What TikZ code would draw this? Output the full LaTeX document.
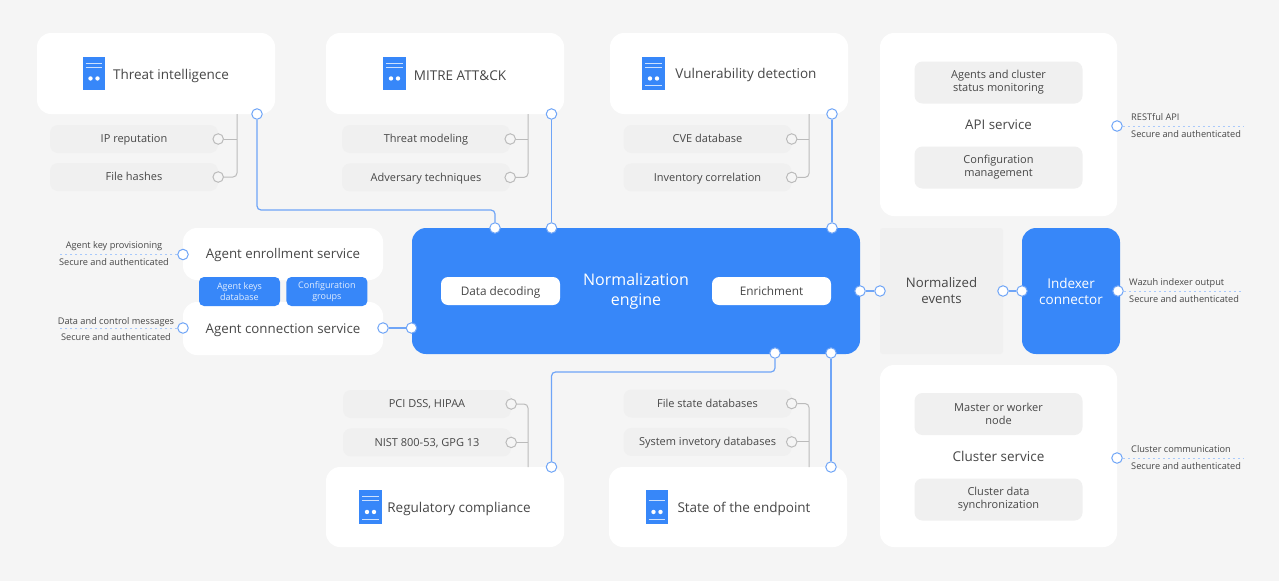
\documentclass[tikz,border=0pt]{standalone}
\usepackage{fontspec}
\setmainfont{Open Sans}
\usetikzlibrary{positioning}

\definecolor{pagebg}{HTML}{F5F5F5}
\definecolor{pillbg}{HTML}{F0F0F0}
\definecolor{wazuhblue}{HTML}{3787F9}
\definecolor{wireblue}{HTML}{6FA5F7}
\definecolor{dotblue}{HTML}{A9C9FB}
\definecolor{graywire}{HTML}{BBBBBB}
\definecolor{inktext}{HTML}{474747}

\tikzset{
	card/.style={fill=white, rounded corners=14pt, inner sep=0pt, text=inktext, text height=9.6pt, text depth=0pt, font=\fontsize{13.3}{16}\selectfont},
	title/.style={inner sep=0pt, text=inktext, text height=9.6pt, text depth=0pt, font=\fontsize{13.5}{16}\selectfont},
	pill/.style={fill=pillbg, rounded corners=8pt, minimum width=168pt, minimum height=28pt, inner sep=0pt, text=inktext, text height=7.9pt, text depth=0pt, font=\fontsize{11}{13}\selectfont},
	bigpill/.style={fill=pillbg, rounded corners=8pt, minimum width=168pt, minimum height=42pt, inner sep=0pt, text=inktext, align=center, font=\fontsize{11}{13}\selectfont},
	bluebox/.style={fill=wazuhblue, rounded corners=14pt, inner sep=0pt, text=white, align=center, font=\fontsize{13.5}{16}\selectfont},
	tinybox/.style={fill=wazuhblue, rounded corners=5pt, minimum width=81pt, minimum height=29pt, inner sep=0pt, text=white!85!wazuhblue, align=center, font=\fontsize{9}{11}\selectfont},
	whitepill/.style={fill=white, rounded corners=7pt, minimum width=119pt, minimum height=28pt, inner sep=0pt, text=inktext, text height=8.4pt, text depth=0pt, font=\fontsize{11.8}{14}\selectfont},
	port/.style={circle, draw=wireblue, fill=white, line width=1pt, minimum size=10.5pt, inner sep=0pt},
	grayport/.style={circle, draw=graywire, fill=pagebg, line width=1pt, minimum size=10.5pt, inner sep=0pt},
	note/.style={inner sep=0pt, text=inktext, text height=6.6pt, text depth=0pt, font=\fontsize{9.2}{10}\selectfont},
	wire/.style={draw=wireblue, line width=1.2pt, rounded corners=4pt},
	tapline/.style={draw=graywire, line width=1pt, rounded corners=4pt},
	dotline/.style={draw=dotblue, line width=1pt, dash pattern=on 2pt off 3pt},
	srvicon/.style={fill=wazuhblue, minimum width=22.5pt, minimum height=33.5pt, inner sep=0pt},
	srvdetail/.style={white!75!wazuhblue, line width=1pt},
}

\begin{document}
\begin{tikzpicture}[x=1pt, y=-1pt]
	\useasboundingbox (0,0) rectangle (1279,581);
	\fill[pagebg] (0,0) rectangle (1279,581);

	% top cards
	\node[card, minimum width=238pt, minimum height=81pt] (threat) at (156,73.5) {};
	\node[card, minimum width=238pt, minimum height=81pt] (mitre) at (445,73.5) {};
	\node[card, minimum width=238pt, minimum height=81pt] (vuln) at (729,73.5) {};
	\node[card, minimum width=237pt, minimum height=183pt] (api) at (998.5,124.5) {API service};

	\node[title] (threatText) at (171,75) {Threat intelligence};
	\node[title] (mitreText) at (460,76) {MITRE ATT\&CK};
	\node[title] (vulnText) at (746,74) {Vulnerability detection};

	\node[pill] (ipRep) at (134,139) {IP reputation};
	\node[pill] (fileHash) at (134,177) {File hashes};
	\node[pill] (threatMod) at (426,139) {Threat modeling};
	\node[pill] (advTech) [below=10pt of threatMod] {Adversary techniques};
	\node[pill] (cveDb) at (707.5,139) {CVE database};
	\node[pill] (invCorr) [below=10pt of cveDb] {Inventory correlation};

	\node[bigpill] (apiStatus) at (998.5,82.5) {Agents and cluster\\status monitoring};
	\node[bigpill] (apiConf) at (998.5,167.5) {Configuration\\management};

	% agent side
	\node[card, minimum width=200pt, minimum height=52pt] (enroll) at (283,254) {Agent enrollment service};
	\node[card, minimum width=200pt, minimum height=53pt] (conn) at (283,328.5) {Agent connection service};
	\node[tinybox] (keysDb) at (239.5,291.5) {Agent keys\\database};
	\node[tinybox] (confGroups) [right=6pt of keysDb] {Configuration\\groups};

	% engine row
	\node[bluebox, minimum width=448pt, minimum height=126pt] (engine) at (636,291) {};
	\node[inner sep=0pt, text=white, align=center, font=\fontsize{16}{20}\selectfont] (engineText) at (636,291.5) {Normalization\\engine};
	\node[whitepill] (decoding) at (500.5,291) {Data decoding};
	\node[whitepill] (enrich) at (771.5,291) {Enrichment};
	\node[fill=pillbg, rounded corners=3pt, minimum width=123pt, minimum height=126pt, inner sep=0pt, text=inktext, align=center, font=\fontsize{13.2}{16}\selectfont] (normEvents) at (941.5,291) {Normalized\\events};
	\node[bluebox, minimum width=98pt, minimum height=126pt] (indexer) at (1071,291) {Indexer\\connector};

	% bottom cards
	\node[card, minimum width=237pt, minimum height=182pt] (cluster) at (998.5,456) {};
	\node[title] (clusterText) at (998.5,456.5) {Cluster service};
	\node[card, minimum width=238pt, minimum height=80pt] (regul) at (445,507) {};
	\node[card, minimum width=238pt, minimum height=80pt] (state) at (728,507) {};

	\node[title] (regulText) at (459,508) {Regulatory compliance};
	\node[title] (stateText) at (744,508) {State of the endpoint};

	\node[pill] (pciDss) at (427,404) {PCI DSS, HIPAA};
	\node[pill] (nistGpg) [below=10pt of pciDss] {NIST 800-53, GPG 13};
	\node[pill] (fileState) at (707.5,403.5) {File state databases};
	\node[pill] (sysInv) [below=10pt of fileState] {System invetory databases};

	\node[bigpill] (masterNode) at (998.5,414) {Master or worker\\node};
	\node[bigpill] (clusterSync) at (998.5,499.5) {Cluster data\\synchronization};

	% server icons, top lines and dots
	\foreach \name/\ix/\iy in {iconA/94/73.5, iconB/394.5/73.5, iconC/653.5/73.5, iconD/370.5/507, iconE/657/507}{
		\node[srvicon] (\name) at (\ix,\iy) {};
		\fill[white] ([xshift=-3.5pt, yshift=12pt]\name.south) circle (2.2pt) ([xshift=3.5pt, yshift=12pt]\name.south) circle (2.2pt);
		\draw[srvdetail] ([xshift=3pt, yshift=-10.5pt]\name.north west) -- ([xshift=-3pt, yshift=-10.5pt]\name.north east);
	}
	\foreach \name in {iconA, iconB, iconC, iconD}{
		\draw[srvdetail] ([xshift=3pt, yshift=-6.5pt]\name.north west) -- ([xshift=-3pt, yshift=-6.5pt]\name.north east);
	}
	\foreach \name in {iconC, iconD, iconE}{
		\draw[srvdetail] ([xshift=3pt, yshift=4.5pt]\name.south west) -- ([xshift=-3pt, yshift=4.5pt]\name.south east);
	}

	% ports
	\node[port] (pThreat) at (257,114) {};
	\node[port] (pMitre) at (551.5,114) {};
	\node[port] (pVuln) at (832,114) {};
	\node[port] (pEngA) at (495,228) {};
	\node[port] (pEngB) at (551.5,228) {};
	\node[port] (pEngC) at (832,228) {};
	\node[port] (pEngD) at (775,353) {};
	\node[port] (pEngE) at (831,353) {};
	\node[port] (pEngL) at (411.5,328) {};
	\node[port] (pEngR) at (860,291) {};
	\node[port] (pRegul) at (551.5,467) {};
	\node[port] (pState) at (831,467) {};
	\node[port] (pConnR) at (383,328) {};
	\node[port] (pConnL) at (183,328) {};
	\node[port] (pEnroll) at (183,254.5) {};
	\node[port] (pEvIn) at (880,291) {};
	\node[port] (pEvOut) at (1003,291) {};
	\node[port] (pIdxIn) at (1022,291) {};
	\node[port] (pIdxOut) at (1118,291) {};
	\node[port] (pApi) at (1117,126) {};
	\node[port] (pCluster) at (1117,458) {};

	\node[grayport] at (ipRep.east) (gIp) {};
	\node[grayport] at (fileHash.east) (gHash) {};
	\node[grayport] at (threatMod.east) (gMod) {};
	\node[grayport] at (advTech.east) (gAdv) {};
	\node[grayport] at (cveDb.east) (gCve) {};
	\node[grayport] at (invCorr.east) (gInv) {};
	\node[grayport] at (pciDss.east) (gPci) {};
	\node[grayport] at (nistGpg.east) (gNist) {};
	\node[grayport] at (fileState.east) (gFile) {};
	\node[grayport] at (sysInv.east) (gSys) {};

	% gray taps
	\coordinate (tapThreat) at (237,114);
	\coordinate (tapMitre) at (528,114);
	\coordinate (tapVuln) at (809,114);
	\coordinate (tapRegul) at (528,467);
	\coordinate (tapState) at (809,467);

	\draw[tapline] (gIp) -- (gIp -| tapThreat);
	\draw[tapline] (gHash) -| (tapThreat);
	\draw[tapline] (gMod) -- (gMod -| tapMitre);
	\draw[tapline] (gAdv) -| (tapMitre);
	\draw[tapline] (gCve) -- (gCve -| tapVuln);
	\draw[tapline] (gInv) -| (tapVuln);
	\draw[tapline] (gNist) -- (gNist -| tapRegul);
	\draw[tapline] (gPci) -| (tapRegul);
	\draw[tapline] (gSys) -- (gSys -| tapState);
	\draw[tapline] (gFile) -| (tapState);

	% blue wires
	\coordinate (elbowTop) at (400,210);
	\coordinate (elbowBot) at (650,372);
	\draw[wire] (pThreat) |- (elbowTop) -| (pEngA);
	\draw[wire] (pMitre) -- (pEngB);
	\draw[wire] (pVuln) -- (pEngC);
	\draw[wire] (pEngD) |- (elbowBot) -| (pRegul);
	\draw[wire] (pEngE) -- (pState);
	\draw[wire] (pConnR) -- (pEngL);
	\draw[wire] (pEngR) -- (pEvIn);
	\draw[wire] (pEvOut) -- (pIdxIn);

	% outer notes
	\coordinate (endEnroll) at (59,254.5);
	\coordinate (endConn) at (59,328);
	\coordinate (endApi) at (1243,126);
	\coordinate (endIdx) at (1243,291);
	\coordinate (endCluster) at (1243,458);
	\draw[dotline] (pEnroll) -- (endEnroll);
	\draw[dotline] (pConnL) -- (endConn);
	\draw[dotline] (pApi) -- (endApi);
	\draw[dotline] (pIdxOut) -- (endIdx);
	\draw[dotline] (pCluster) -- (endCluster);

	\node[note] (noteKey) at (114,245) {Agent key provisioning};
	\node[note] (noteKeySec) at (114,262) {Secure and authenticated};
	\node[note] (noteData) at (116,321) {Data and control messages};
	\node[note] (noteDataSec) at (116,337) {Secure and authenticated};
	\node[note, anchor=west] (noteRest) at (1131,117) {RESTful API};
	\node[note, anchor=west] (noteRestSec) at (1131,134) {Secure and authenticated};
	\node[note, anchor=west] (noteIdx) at (1129,282) {Wazuh indexer output};
	\node[note, anchor=west] (noteIdxSec) at (1129,299) {Secure and authenticated};
	\node[note, anchor=west] (noteClu) at (1131,449) {Cluster communication};
	\node[note, anchor=west] (noteCluSec) at (1131,466) {Secure and authenticated};
\end{tikzpicture}
\end{document}
